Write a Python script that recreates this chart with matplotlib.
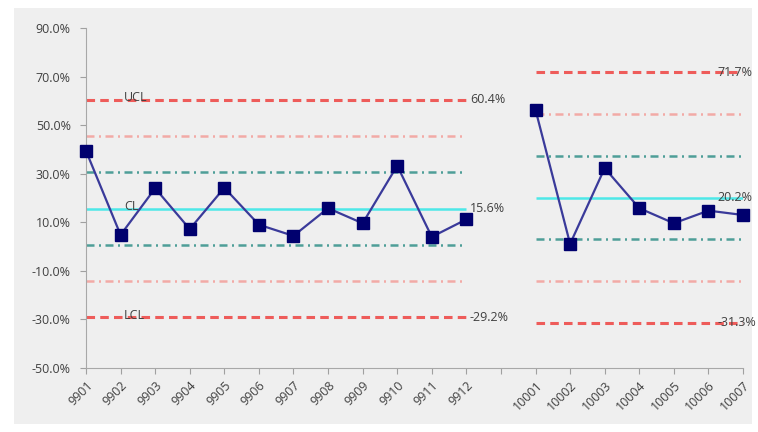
import numpy as np
import matplotlib.pyplot as plt
from matplotlib.patches import Rectangle
from matplotlib.ticker import PercentFormatter

# months of the two periods, a blank slot separates them
months_a = ['9901', '9902', '9903', '9904', '9905', '9906',
            '9907', '9908', '9909', '9910', '9911', '9912']
months_b = ['10001', '10002', '10003', '10004', '10005', '10006', '10007']

# measured rate (%)
rate_a = [39.4, 4.8, 24.0, 7.2, 24.2, 9.0, 4.4, 15.8, 9.6, 33.3, 4.0, 11.2]
rate_b = [56.3, 1.1, 32.3, 15.8, 9.6, 14.8, 13.0]

# control limits per period
ucl = [60.4, 71.7]
cl = [15.6, 20.2]
lcl = [-29.2, -31.3]

labels = months_a + [''] + months_b
x_a = np.arange(len(months_a))
x_b = np.arange(len(months_b)) + len(months_a) + 1
x_all = np.arange(len(labels))
y_all = rate_a + [np.nan] + rate_b

plt.rcParams['font.family'] = ['Open Sans', 'DejaVu Sans']
plt.rcParams['axes.unicode_minus'] = False

fig = plt.figure(figsize=(7.58, 4.32), dpi=100, facecolor='white')
fig.patches.append(Rectangle((14 / 758, 8 / 432), 738 / 758, 416 / 432,
                             transform=fig.transFigure, facecolor='#efefef',
                             edgecolor='none', zorder=-10))
ax = fig.add_axes([86 / 758, 1 - 368 / 432, 657 / 758, 340 / 432])
ax.set_facecolor('none')

txt = '#404040'
for xs, u, c, l in zip([x_a, x_b], ucl, cl, lcl):
    s = (u - c) / 3
    x0, x1 = xs[0], xs[-1]
    ax.hlines([u, l], x0, x1, colors='#ee5c5a', linestyles=(0, (2.8, 1.7)), lw=2.2, zorder=2)
    ax.hlines([c + 2 * s, c - 2 * s], x0, x1, colors='#f2aaa6',
              linestyles=(0, (3.2, 1.8, 0.8, 1.8)), lw=1.8, zorder=2)
    ax.hlines([c + s, c - s], x0, x1, colors='#4e9e98',
              linestyles=(0, (3.2, 1.8, 0.8, 1.8)), lw=1.8, zorder=2)
    ax.hlines(c, x0, x1, colors='#4de8e8', lw=1.8, zorder=2)
    dx = 0.1 if xs is x_a else -0.75
    for v in (u, c, l):
        ax.text(x1 + dx, v, f'{v:.1f}%', color=txt, fontsize=9,
                va='center', ha='left', zorder=4)

ax.text(1.1, ucl[0] + 1, 'UCL', color=txt, fontsize=9, va='center', zorder=4)
ax.text(1.1, cl[0] + 1, 'CL', color=txt, fontsize=9, va='center', zorder=4)
ax.text(1.1, lcl[0] + 1, 'LCL', color=txt, fontsize=9, va='center', zorder=4)

ax.plot(x_all, y_all, color='#3a3a9a', lw=1.6, marker='s', ms=8.5,
        mfc='#00006e', mec='#00006e', zorder=5, clip_on=False)

ax.set_xlim(0, len(labels) - 1)
ax.set_ylim(-50, 90)
ax.set_yticks(np.arange(-50, 91, 20))
ax.yaxis.set_major_formatter(PercentFormatter(decimals=1))
ax.set_xticks(x_all)
ax.set_xticklabels(labels, rotation=45, ha='right', rotation_mode='anchor')
ax.tick_params(colors='#a0a0a0', labelcolor=txt, labelsize=9, length=4)
ax.tick_params(axis='y', pad=7)
for side in ('top', 'right'):
    ax.spines[side].set_visible(False)
for side in ('left', 'bottom'):
    ax.spines[side].set_color('#a8a8a8')

fig.savefig('out.png', dpi=100, facecolor='white')
